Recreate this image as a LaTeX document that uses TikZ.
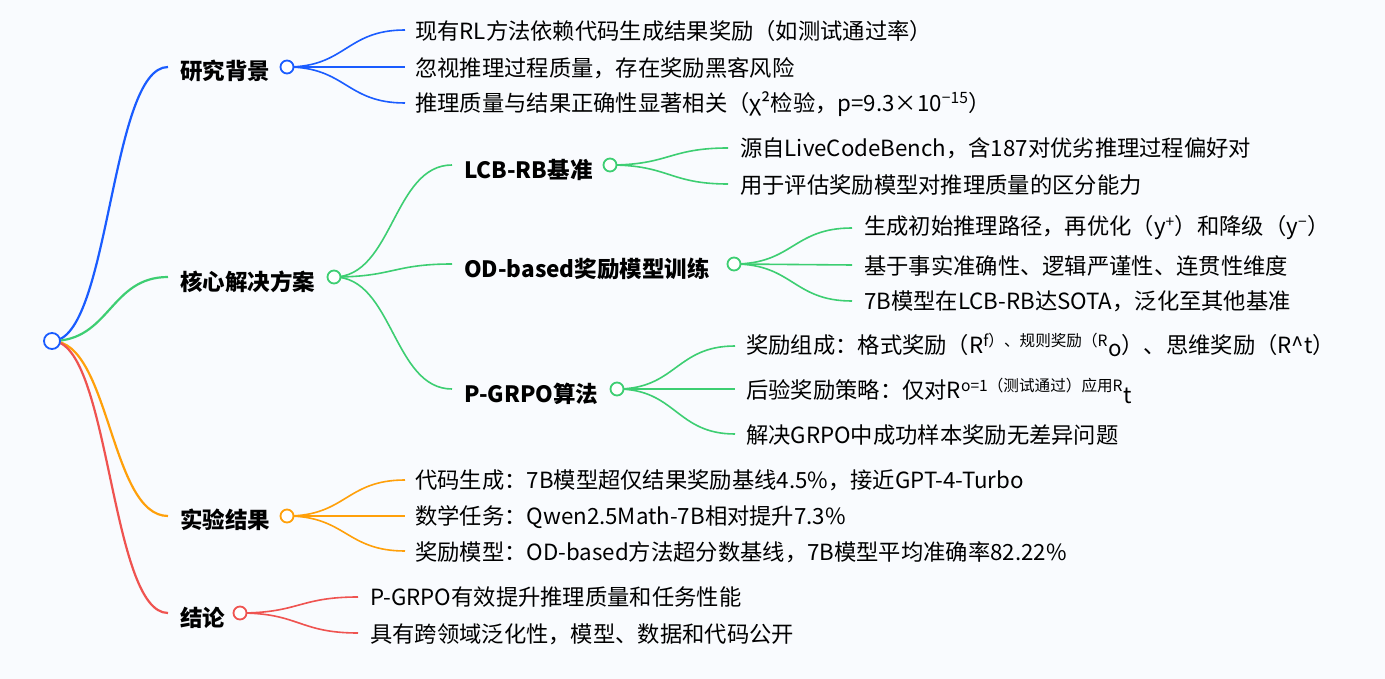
\documentclass[tikz,border=0pt]{standalone}
\usepackage{fontspec}
\setmainfont{Noto Sans CJK SC}
\usetikzlibrary{calc}
\definecolor{cb}{HTML}{1A5CFF}
\definecolor{cg}{HTML}{3DCE72}
\definecolor{co}{HTML}{FFA00A}
\definecolor{cr}{HTML}{EF5350}
\definecolor{bgc}{HTML}{F9FBFE}
\tikzset{
  leaf/.style={anchor=west,inner sep=0pt,font=\fontsize{22.3}{26}\selectfont},
  lab/.style={anchor=west,inner sep=0pt,font=\fontsize{22.5}{26}\selectfont\bfseries},
  dot/.style={circle,draw=#1,fill=white,line width=1.8pt,minimum size=13pt,inner sep=0pt},
  e1/.style={draw=#1,line width=2.2pt},
  e2/.style={draw=#1,line width=1.6pt},
}
\newcommand{\lnk}[3]{\draw[#1] let \p1=(#2),\p2=(#3) in (\p1) .. controls ({(\x1+\x2)/2},\y1) and ({(\x1+\x2)/2},\y2) .. (\p2);}
\begin{document}
\begin{tikzpicture}[x=1pt,y=-1pt]
\fill[bgc] (0,0) rectangle (1385,679);
\useasboundingbox (0,0) rectangle (1385,679);
% root
\coordinate (r) at (52,341);
\coordinate (a) at (168,67); \coordinate (b) at (168,277);
\coordinate (c) at (168,516); \coordinate (d) at (168,613);
\lnk{e1=cb}{r}{a} \lnk{e1=cg}{r}{b} \lnk{e1=co}{r}{c} \lnk{e1=cr}{r}{d}
\node[dot=cb,minimum size=16pt] (root) at (r) {};
\node[lab] (ta) at (180,71) {研究背景};
\node[lab] (tb) at (180,282) {核心解决方案};
\node[lab] (tc) at (180,520) {实验结果};
\node[lab] (td) at (180,618) {结论};
\coordinate (ca) at (287,67); \coordinate (cb0) at (334,277);
\coordinate (cc) at (287,516); \coordinate (cd) at (240,613);
% 研究背景 children
\coordinate (a1) at (405,30); \coordinate (a2) at (405,67); \coordinate (a3) at (405,103);
\foreach \t in {a1,a2,a3} {\lnk{e2=cb}{ca}{\t}}
\node[dot=cb] (nca) at (ca) {};
\node[leaf] (ta1) at (415,31) {现有RL方法依赖代码生成结果奖励（如测试通过率）};
\node[leaf] (ta2) at (415,68) {忽视推理过程质量，存在奖励黑客风险};
\node[leaf] (ta3) at (415,104) {推理质量与结果正确性显著相关（χ²检验，p=9.3×10\textsuperscript{−15}）};
% 核心 children
\coordinate (b1) at (452,165); \coordinate (b2) at (452,264); \coordinate (b3) at (452,389);
\foreach \t in {b1,b2,b3} {\lnk{e2=cg}{cb0}{\t}}
\node[dot=cg] (ncb) at (cb0) {};
\node[lab] (tb1) at (464,170) {LCB-RB基准};
\node[lab] (tb2) at (464,269) {OD-based奖励模型训练};
\node[lab] (tb3) at (464,394) {P-GRPO算法};
\coordinate (cb1) at (610,165); \coordinate (cb2) at (734,264); \coordinate (cb3) at (617,389);
\coordinate (b11) at (728,148); \coordinate (b12) at (728,184);
\foreach \t in {b11,b12} {\lnk{e2=cg}{cb1}{\t}}
\coordinate (b21) at (852,228); \coordinate (b22) at (852,265); \coordinate (b23) at (852,301);
\foreach \t in {b21,b22,b23} {\lnk{e2=cg}{cb2}{\t}}
\coordinate (b31) at (735,346); \coordinate (b32) at (735,389); \coordinate (b33) at (735,434);
\foreach \t in {b31,b32,b33} {\lnk{e2=cg}{cb3}{\t}}
\node[dot=cg] (ncb1) at (cb1) {};
\node[dot=cg] (ncb2) at (cb2) {};
\node[dot=cg] (ncb3) at (cb3) {};
\node[leaf] (tb11) at (740,148) {源自LiveCodeBench，含187对优劣推理过程偏好对};
\node[leaf] (tb12) at (740,185) {用于评估奖励模型对推理质量的区分能力};
\node[leaf] (tb21) at (864,228) {生成初始推理路径，再优化（y\textsuperscript{+}）和降级（y\textsuperscript{−}）};
\node[leaf] (tb22) at (864,266) {基于事实准确性、逻辑严谨性、连贯性维度};
\node[leaf] (tb23) at (864,301) {7B模型在LCB-RB达SOTA，泛化至其他基准};
\node[leaf] (tb31) at (746,345) {奖励组成：格式奖励（R\textsuperscript{f）、规则奖励（R}\raisebox{-3pt}{o}）、思维奖励（R\textasciicircum t）};
\node[leaf] (tb32) at (746,391) {后验奖励策略：仅对R\textsuperscript{o=1（测试通过）应用R}\raisebox{-5pt}{t}};
\node[leaf] (tb33) at (746,435) {解决GRPO中成功样本奖励无差异问题};
% 实验结果
\coordinate (c1) at (405,480); \coordinate (c2) at (405,516); \coordinate (c3) at (405,551);
\foreach \t in {c1,c2,c3} {\lnk{e2=co}{cc}{\t}}
\node[dot=co] (ncc) at (cc) {};
\node[leaf] (tc1) at (415,480) {代码生成：7B模型超仅结果奖励基线4.5\%，接近GPT-4-Turbo};
\node[leaf] (tc2) at (415,517) {数学任务：Qwen2.5Math-7B相对提升7.3\%};
\node[leaf] (tc3) at (415,552) {奖励模型：OD-based方法超分数基线，7B模型平均准确率82.22\%};
% 结论
\coordinate (d1) at (358,597); \coordinate (d2) at (358,633);
\foreach \t in {d1,d2} {\lnk{e2=cr}{cd}{\t}}
\node[dot=cr] (ncd) at (cd) {};
\node[leaf] (td1) at (370,597) {P-GRPO有效提升推理质量和任务性能};
\node[leaf] (td2) at (370,634) {具有跨领域泛化性，模型、数据和代码公开};
\end{tikzpicture}
\end{document}
